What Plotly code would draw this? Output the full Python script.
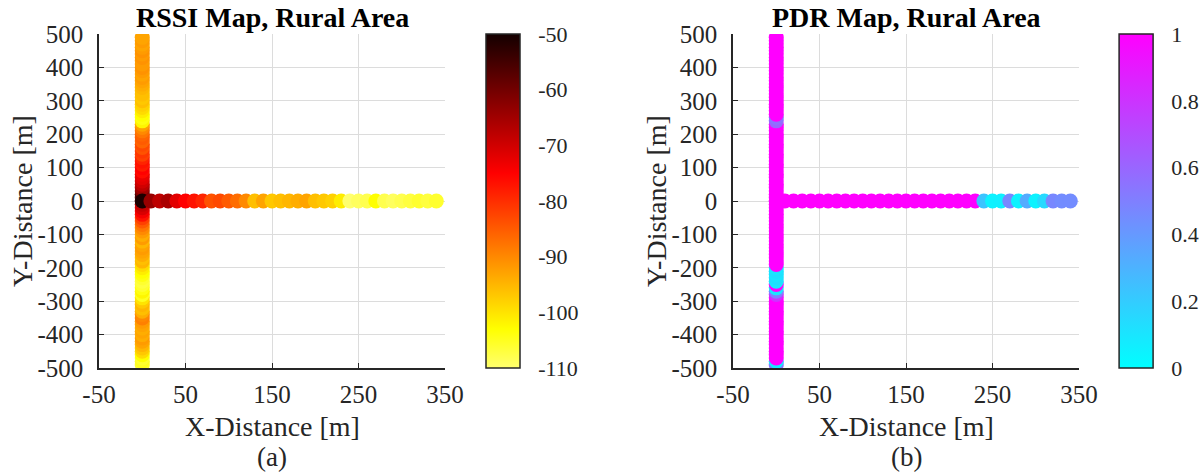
import plotly.graph_objects as go

# ---- Measurement route: vertical road (x = 0) and horizontal road (y = 0) ----
# points are listed in drawing order (later points are drawn on top)
y_vertical = [-490, -480, -470, -460, -450, -440, -430, -420, -410, -400,
              -390, -380, -370, -360, -350, -340, -330, -320, -310, -300,
              -290, -280, -270, -260, -250, -240, -230, -220, -210, -200,
              -190, -180, -170, -160, -150, -140, -130, -120, -110, -100,
              -90, -80, -70, -60, -50, -40, -30, -20, -10, 0,
              10, 20, 30, 40, 50, 60, 70, 80, 90, 100,
              110, 120, 130, 140, 150, 160, 170, 180, 190, 200,
              210, 220, 230, 240, 250, 260, 270, 280, 290, 300,
              310, 320, 330, 340, 350, 360, 370, 380, 390, 400,
              410, 420, 430, 440, 450, 460, 470, 480, 490]

x_horizontal = [0, 10, 20, 30, 40, 50, 60, 70, 80, 90,
                100, 110, 120, 130, 140, 150, 160, 170, 180, 190,
                200, 210, 220, 230, 240, 250, 260, 270, 280, 290,
                300, 310, 320, 330, 340]

# RSSI [dBm] along the vertical road (bottom to top)
rssi_vertical = [-106, -105, -106, -103, -99, -97, -95, -93, -92, -94,
                 -93, -94, -93, -92, -89, -90, -94, -96, -95, -97,
                 -100, -105, -102, -104, -106, -107, -106, -104, -103, -101,
                 -99, -95, -96, -94, -93, -92, -93, -95, -92, -94,
                 -92, -90, -88, -85, -82, -77, -74, -71, -69, -66,
                 -58, -55, -62, -65, -68, -70, -72, -73, -76, -75,
                 -78, -77, -79, -82, -81, -84, -83, -86, -85, -86,
                 -88, -90, -93, -102, -104, -103, -101, -99, -98, -96,
                 -97, -96, -96, -95, -94, -93, -92, -93, -92, -91,
                 -92, -92, -91, -92, -91, -92, -93, -92, -93]

# RSSI [dBm] along the horizontal road (left to right)
rssi_horizontal = [-51, -64, -68, -66, -72, -75, -77, -79, -84, -83,
                   -85, -87, -90, -96, -93, -97, -96, -95, -94, -93,
                   -96, -97, -98, -101, -110, -109, -108, -103, -108, -109,
                   -108, -107, -106, -107, -106]

# Packet delivery ratio along the vertical road (bottom to top)
pdr_vertical = [0.55, 0.1, 1, 1, 1, 1, 1, 1, 1, 1,
                1, 1, 1, 1, 1, 1, 1, 1, 1, 1,
                1, 0.8, 0.5, 0.1, 1, 0.1, 0.12, 0.1, 0.12, 0.1,
                1, 1, 1, 1, 1, 1, 1, 1, 1, 1,
                1, 1, 1, 1, 1, 1, 1, 1, 1, 1,
                1, 1, 1, 1, 1, 1, 1, 1, 1, 1,
                1, 1, 1, 1, 1, 1, 1, 1, 1, 1,
                1, 1, 1, 0.6, 0.55, 1, 1, 1, 1, 1,
                1, 1, 1, 1, 1, 1, 1, 1, 1, 1,
                1, 1, 1, 1, 1, 1, 1, 1, 1]

# Packet delivery ratio along the horizontal road (left to right)
pdr_horizontal = [1, 1, 1, 1, 1, 1, 1, 1, 1, 1,
                  1, 1, 1, 1, 1, 1, 1, 1, 1, 1,
                  1, 1, 1, 1, 0.23, 0.05, 0.06, 0.47, 0.05, 0.33,
                  0.05, 0.15, 0.47, 0.45, 0.45]

# ---- Axis ticks ----
x_ticks = [-50, 50, 150, 250, 350]
x_tick_labels = ["-50", "50", "150", "250", "350"]
y_ticks = [500, 400, 300, 200, 100, 0, -100, -200, -300, -400, -500]
y_tick_labels = ["500", "400", "300", "200", "100", "0",
                 "-100", "-200", "-300", "-400", "-500"]
rssi_ticks = [-50, -60, -70, -80, -90, -100, -110]
rssi_tick_labels = ["-50", "-60", "-70", "-80", "-90", "-100", "-110"]
pdr_ticks = [0, 0.2, 0.4, 0.6, 0.8, 1]
pdr_tick_labels = ["0", "0.2", "0.4", "0.6", "0.8", "1"]

panel_titles = ["RSSI Map, Rural Area", "PDR Map, Rural Area"]
panel_tags = ["(a)", "(b)"]
x_title = "X-Distance [m]"
y_title = "Y-Distance [m]"

# ---- Styling ----
W, H = 1200, 475
FONT = "Liberation Serif"
INK = "#262626"
GRID = "#dcdcdc"
GAP = "\u00a0"  # small gap between colour bar and its labels

# flipped "hot" map: pale yellow -> yellow -> red -> black
hot_rev = [[0.0, "rgb(255,255,110)"], [0.1167, "rgb(255,255,0)"],
           [0.5833, "rgb(255,0,0)"], [1.0, "rgb(20,0,0)"]]
# "cool" map: cyan -> magenta
cool = [[0.0, "rgb(0,255,255)"], [1.0, "rgb(255,0,255)"]]

# panel geometry in pixels
ax_left = [99, 733]
ax_right = [445, 1079]
ax_top, ax_bottom = 34, 368
cb_width = 34
# colour bar placement: (anchor x in px, anchor side)
cb_anchor = [(486, "left"), (1200, "right")]


def px_x(p):
    return p / W


def px_y(p):
    return 1 - p / H


x_all = [0] * len(y_vertical) + x_horizontal
y_all = y_vertical + [0] * len(x_horizontal)

fig = go.Figure()

panels = [
    (rssi_vertical + rssi_horizontal, hot_rev, -110, -50, rssi_ticks, rssi_tick_labels),
    (pdr_vertical + pdr_horizontal, cool, 0, 1, pdr_ticks, pdr_tick_labels),
]

for i, (vals, cscale, cmin, cmax, cticks, clabels) in enumerate(panels):
    suffix = "" if i == 0 else "2"
    fig.add_trace(go.Scatter(
        x=x_all, y=y_all, mode="markers",
        xaxis="x" + suffix, yaxis="y" + suffix,
        marker=dict(
            size=15, color=vals, colorscale=cscale, cmin=cmin, cmax=cmax,
            line=dict(width=0), opacity=1,
            colorbar=dict(
                x=px_x(cb_anchor[i][0]), xanchor=cb_anchor[i][1], xpad=0,
                y=px_y(ax_bottom), yanchor="bottom", ypad=0,
                len=(ax_bottom - ax_top) / H, lenmode="fraction",
                thickness=cb_width, thicknessmode="pixels",
                outlinecolor=INK, outlinewidth=1.5,
                ticks="outside", ticklen=8, tickcolor="rgba(0,0,0,0)",
                tickvals=cticks, ticktext=[GAP + t for t in clabels],
                tickfont=dict(family=FONT, size=22, color=INK),
            ),
        ),
        hoverinfo="skip", showlegend=False,
    ))

axis_common = dict(
    showline=True, linecolor=INK, linewidth=1.5, mirror=False,
    ticks="inside", ticklen=5, tickwidth=1, tickcolor=INK,
    showgrid=True, gridcolor=GRID, gridwidth=1, zeroline=False,
    automargin=False,
    tickfont=dict(family=FONT, size=25, color=INK),
)

layout = dict(
    width=W, height=H, margin=dict(l=0, r=0, t=0, b=0, autoexpand=False),
    paper_bgcolor="white", plot_bgcolor="white", showlegend=False,
)

for i in range(2):
    suffix = "" if i == 0 else "2"
    layout["xaxis" + suffix] = dict(
        axis_common, domain=[px_x(ax_left[i]), px_x(ax_right[i])],
        range=[-50, 350], tickvals=x_ticks, ticktext=x_tick_labels,
        anchor="y" + suffix, ticklabelstandoff=3,
    )
    layout["yaxis" + suffix] = dict(
        axis_common, domain=[px_y(ax_bottom), px_y(ax_top)],
        range=[-500, 500], tickvals=y_ticks, ticktext=y_tick_labels,
        anchor="x" + suffix, ticklabelstandoff=9,
    )

fig.update_layout(**layout)

annotations = []
for i in range(2):
    cx = (ax_left[i] + ax_right[i]) / 2
    annotations.append(dict(
        text="<b>" + panel_titles[i] + "</b>", x=px_x(cx), y=px_y(17.5),
        xref="paper", yref="paper", xanchor="center", yanchor="middle",
        showarrow=False, font=dict(family=FONT, size=28, color="black"),
    ))
    annotations.append(dict(
        text=x_title, x=px_x(cx), y=px_y(426),
        xref="paper", yref="paper", xanchor="center", yanchor="middle",
        showarrow=False, font=dict(family=FONT, size=28, color=INK),
    ))
    annotations.append(dict(
        text=panel_tags[i], x=px_x(cx), y=px_y(457),
        xref="paper", yref="paper", xanchor="center", yanchor="middle",
        showarrow=False, font=dict(family=FONT, size=27, color=INK),
    ))
    annotations.append(dict(
        text=y_title, x=px_x(ax_left[i] - 77), y=px_y((ax_top + ax_bottom) / 2),
        xref="paper", yref="paper", xanchor="center", yanchor="middle",
        textangle=-90, showarrow=False,
        font=dict(family=FONT, size=28, color=INK),
    ))

fig.update_layout(annotations=annotations)

fig.write_html("out.html")
